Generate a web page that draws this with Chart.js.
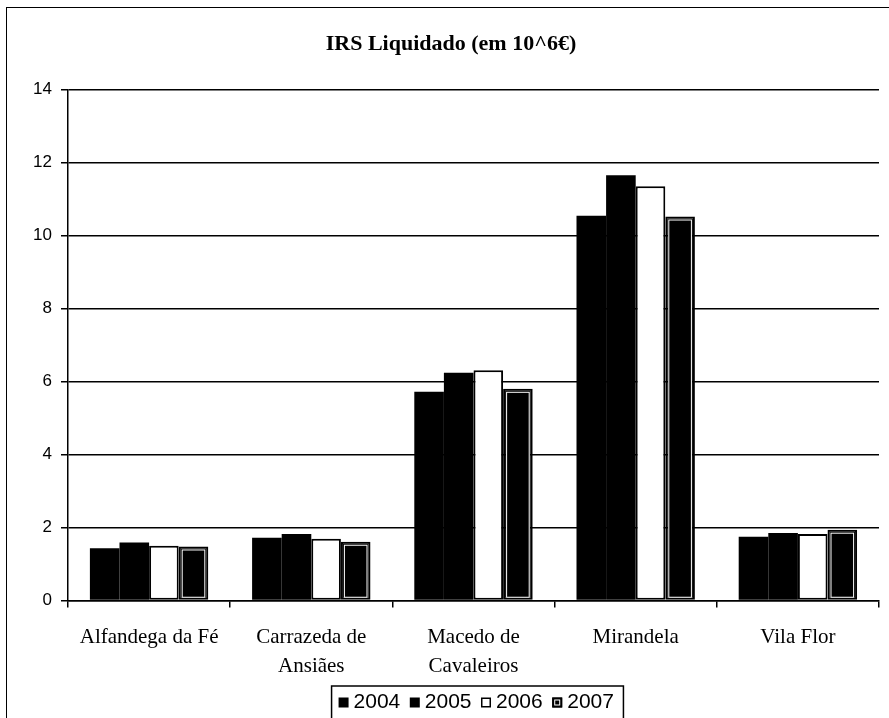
<!DOCTYPE html>
<html>
<head>
<meta charset="utf-8">
<script src="https://cdn.jsdelivr.net/npm/chart.js@4"></script>
<style>
    html, body { margin: 0; padding: 0; background: #fff; overflow: hidden; }
    #wrap { position: relative; width: 889px; height: 718px; overflow: hidden; }
    #frame { position: absolute; left: 6px; top: 7px; width: 900px; height: 720px;
             border-left: 1.5px solid #000; border-top: 1.5px solid #000; }
    canvas { position: absolute; left: 0; top: 0; }
</style>
</head>
<body>
<div id="wrap">
    <div id="frame"></div>
    <canvas id="chart" width="889" height="723"></canvas>
</div>
<script>
// IRS Liquidado per concelho, millions of euros
const municipalities = ['Alfandega da Fé', ['Carrazeda de', 'Ansiães'], ['Macedo de', 'Cavaleiros'], 'Mirandela', 'Vila Flor'];
const years = ['2004', '2005', '2006', '2007'];
const irs2004 = [1.43, 1.72, 5.72, 10.54, 1.75];
const irs2005 = [1.59, 1.82, 6.24, 11.65, 1.85];
const irs2006 = [1.50, 1.69, 6.31, 11.35, 1.82];
const irs2007 = [1.48, 1.61, 5.80, 10.52, 1.94];
const yTicks = [0, 2, 4, 6, 8, 10, 12, 14];

const serif = '"Liberation Serif", "Times New Roman", serif';
const sans = '"Liberation Sans", Arial, sans-serif';

const extras = {
    id: 'extras',
    // 2007 bars have a double border (black / white / black fill)
    afterDatasetsDraw(chart) {
        const ctx = chart.ctx;
        const meta = chart.getDatasetMeta(3);
        ctx.save();
        ctx.strokeStyle = '#fff';
        ctx.lineWidth = 1;
        meta.data.forEach(bar => {
            const { x, y, base, width } = bar.getProps(['x', 'y', 'base', 'width'], true);
            ctx.strokeRect(x - width / 2 + 3.5, y + 3.5, width - 7, base - y - 6);
        });
        ctx.restore();
    },
    // legend markers sit closer to their text, plus a frame round the legend
    afterDraw(chart) {
        const boxes = chart.legend.legendHitBoxes;
        if (!boxes || !boxes.length) return;
        const ctx = chart.ctx;
        const first = boxes[0];
        const last = boxes[boxes.length - 1];
        ctx.save();
        boxes.forEach((hb, i) => {
            const ds = chart.data.datasets[i];
            const bx = hb.left + 5.5;
            const by = hb.top + (hb.height - 10) / 2;
            ctx.fillStyle = ds.backgroundColor;
            ctx.fillRect(bx, by, 10, 10);
            if (ds.borderWidth) {
                ctx.strokeStyle = ds.borderColor;
                ctx.lineWidth = 1.5;
                ctx.strokeRect(bx + 0.75, by + 0.75, 8.5, 8.5);
            }
            if (i === 3) {
                ctx.strokeStyle = '#fff';
                ctx.lineWidth = 1;
                ctx.strokeRect(bx + 2.5, by + 2.5, 5, 5);
            }
        });
        ctx.strokeStyle = '#000';
        ctx.lineWidth = 1.5;
        const left = first.left - 1.5;
        const right = last.left + last.width + 9.5;
        const top = first.top - 6;
        ctx.beginPath();
        ctx.moveTo(left, chart.height + 5);
        ctx.lineTo(left, top);
        ctx.lineTo(right, top);
        ctx.lineTo(right, chart.height + 5);
        ctx.stroke();
        ctx.restore();
    }
};

new Chart(document.getElementById('chart'), {
    type: 'bar',
    data: {
        labels: municipalities,
        datasets: [
            { label: years[0], data: irs2004, backgroundColor: '#000', borderColor: '#000', borderWidth: 0 },
            { label: years[1], data: irs2005, backgroundColor: '#000', borderColor: '#000', borderWidth: 0 },
            { label: years[2], data: irs2006, backgroundColor: '#fff', borderColor: '#000', borderWidth: 2, borderSkipped: false },
            { label: years[3], data: irs2007, backgroundColor: '#000', borderColor: '#000', borderWidth: 2, borderSkipped: false }
        ]
    },
    options: {
        responsive: false,
        animation: false,
        layout: { padding: { left: 23, right: 10, top: 0, bottom: 0 } },
        datasets: {
            bar: { categoryPercentage: 0.73, barPercentage: 1 }
        },
        plugins: {
            title: {
                display: true,
                text: 'IRS Liquidado (em 10^6€)',
                color: '#000',
                font: { family: serif, size: 22, weight: 'bold' },
                padding: { top: 31.5, bottom: 31.6 }
            },
            legend: {
                position: 'bottom',
                fullSize: false,
                labels: {
                    color: '#000',
                    font: { family: sans, size: 21 },
                    boxWidth: 10,
                    boxHeight: 10,
                    padding: 4,
                    generateLabels(chart) {
                        const items = Chart.defaults.plugins.legend.labels.generateLabels(chart);
                        items.forEach(it => {
                            it.fillStyle = 'rgba(0,0,0,0)';
                            it.strokeStyle = 'rgba(0,0,0,0)';
                            it.lineWidth = 0;
                        });
                        return items;
                    }
                }
            },
            tooltip: { enabled: false }
        },
        scales: {
            x: {
                grid: {
                    display: true,
                    offset: true,
                    drawOnChartArea: false,
                    drawTicks: true,
                    tickLength: 7,
                    color: '#000',
                    lineWidth: 1.5
                },
                border: { display: true, color: '#000', width: 1.5 },
                ticks: {
                    color: '#000',
                    padding: 15.5,
                    maxRotation: 0,
                    autoSkip: false,
                    font: { family: serif, size: 21, lineHeight: 1.38 }
                },
                afterFit(scale) { scale.height = 87.5; }
            },
            y: {
                min: 0,
                max: 14,
                afterBuildTicks(scale) { scale.ticks = yTicks.map(v => ({ value: v })); },
                grid: {
                    color: '#000',
                    lineWidth: 1.5,
                    drawTicks: true,
                    tickLength: 7
                },
                border: { display: true, color: '#000', width: 1.5 },
                ticks: {
                    color: '#000',
                    padding: 9,
                    font: { family: sans, size: 17 }
                },
                afterFit(scale) { scale.width = 45; }
            }
        }
    },
    plugins: [extras]
});
</script>
</body>
</html>
